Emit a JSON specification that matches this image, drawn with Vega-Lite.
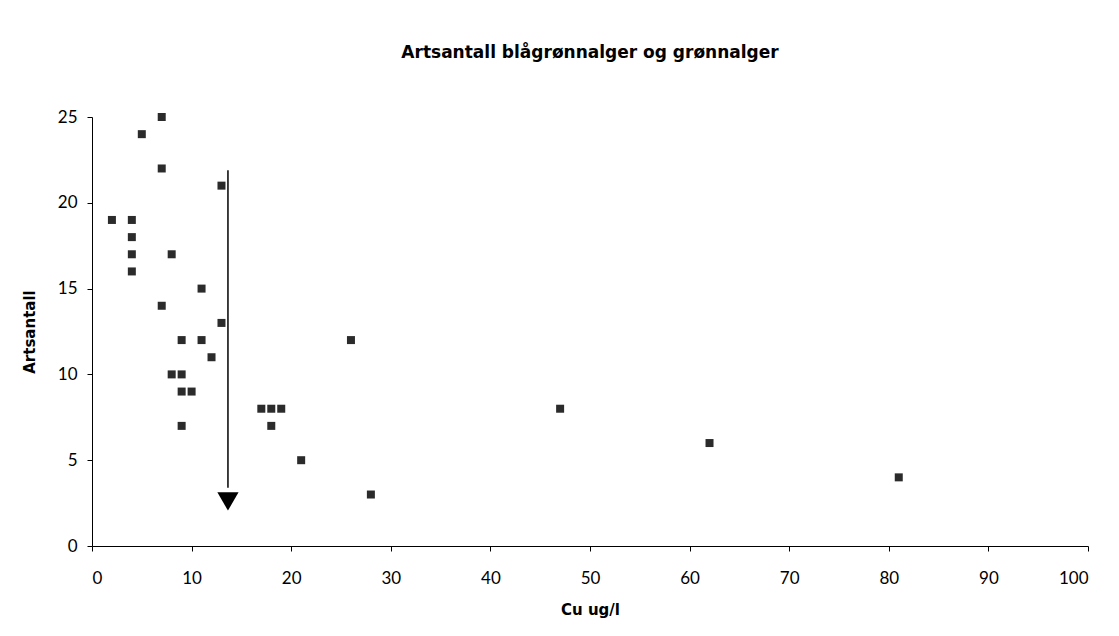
{
  "$schema": "https://vega.github.io/schema/vega-lite/v6.json",
  "autosize": "none",
  "width": 996,
  "height": 429,
  "padding": {"left": 92, "top": 117, "right": 31, "bottom": 90},
  "background": "white",
  "config": {
    "view": {"stroke": null},
    "font": "Lato",
    "axis": {"grid": false, "domainColor": "#000", "tickColor": "#000", "labelColor": "#000", "titleColor": "#000", "labelFont": "Lato", "titleFont": "DejaVu Sans"}
  },
  "title": {"text": "Artsantall blågrønnalger og grønnalger", "fontSize": 17, "fontWeight": "bold", "font": "DejaVu Sans", "color": "#000", "offset": 46, "anchor": "middle"},
  "datasets": {
    "points": [
      {"cu": 2, "arter": 19},
      {"cu": 4, "arter": 19},
      {"cu": 4, "arter": 18},
      {"cu": 4, "arter": 17},
      {"cu": 4, "arter": 16},
      {"cu": 5, "arter": 24},
      {"cu": 7, "arter": 25},
      {"cu": 7, "arter": 22},
      {"cu": 7, "arter": 14},
      {"cu": 8, "arter": 17},
      {"cu": 8, "arter": 10},
      {"cu": 9, "arter": 10},
      {"cu": 9, "arter": 12},
      {"cu": 9, "arter": 9},
      {"cu": 10, "arter": 9},
      {"cu": 9, "arter": 7},
      {"cu": 11, "arter": 15},
      {"cu": 11, "arter": 12},
      {"cu": 12, "arter": 11},
      {"cu": 13, "arter": 21},
      {"cu": 13, "arter": 13},
      {"cu": 17, "arter": 8},
      {"cu": 18, "arter": 8},
      {"cu": 19, "arter": 8},
      {"cu": 18, "arter": 7},
      {"cu": 21, "arter": 5},
      {"cu": 26, "arter": 12},
      {"cu": 28, "arter": 3},
      {"cu": 47, "arter": 8},
      {"cu": 62, "arter": 6},
      {"cu": 81, "arter": 4}
    ],
    "arrow": [
      {"cu": 13.65, "y1": 21.9, "y2": 3.4}
    ],
    "head": [
      {"cu": 13.65, "arter": 2.6}
    ]
  },
  "layer": [
    {
      "data": {"name": "points"},
      "mark": {"type": "point", "shape": "square", "filled": true, "size": 64, "color": "#2b2b2b", "opacity": 1},
      "encoding": {
        "x": {"field": "cu", "type": "quantitative", "scale": {"domain": [0, 100], "nice": false}, "axis": {"title": "Cu ug/l", "values": [0,10,20,30,40,50,60,70,80,90,100], "labelFontSize": 17, "labelPadding": 19, "tickSize": 5, "titleFontSize": 15, "titleFontWeight": "bold", "titlePadding": 16}},
        "y": {"field": "arter", "type": "quantitative", "scale": {"domain": [0, 25], "nice": false}, "axis": {"title": "Artsantall", "values": [0,5,10,15,20,25], "labelFontSize": 17, "labelPadding": 10, "tickSize": 5, "titleFontSize": 15, "titleFontWeight": "bold", "titlePadding": 20}}
      }
    },
    {
      "data": {"name": "arrow"},
      "mark": {"type": "rule", "color": "#000", "strokeWidth": 1.5},
      "encoding": {
        "x": {"field": "cu", "type": "quantitative"},
        "y": {"field": "y1", "type": "quantitative"},
        "y2": {"field": "y2"}
      }
    },
    {
      "data": {"name": "head"},
      "mark": {"type": "point", "shape": "triangle-down", "filled": true, "size": 450, "color": "#000", "opacity": 1},
      "encoding": {
        "x": {"field": "cu", "type": "quantitative"},
        "y": {"field": "arter", "type": "quantitative"}
      }
    }
  ]
}
